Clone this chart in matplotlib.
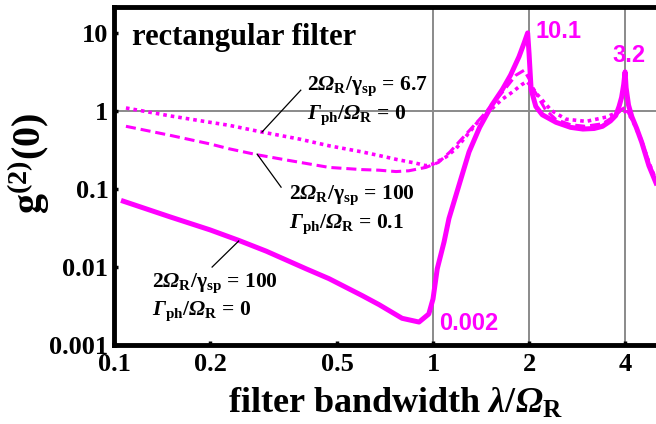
import numpy as np
import matplotlib
matplotlib.use("Agg")
import matplotlib.pyplot as plt
from matplotlib.ticker import FixedLocator, FixedFormatter, NullLocator

# fonts: bold Times-like everywhere, italic bold greek in math
plt.rcParams['font.family'] = ['Liberation Serif', 'DejaVu Serif']
plt.rcParams['font.weight'] = 'bold'
plt.rcParams['mathtext.fontset'] = 'custom'
plt.rcParams['mathtext.rm'] = 'Liberation Serif:bold:italic'
plt.rcParams['mathtext.it'] = 'Liberation Serif:bold:italic'
plt.rcParams['mathtext.bf'] = 'Liberation Serif:bold'

# ~~~~ data
# 2Omega_R/gamma_sp = 100, Gamma_ph/Omega_R = 0   (solid)
x_solid = [0.107, 0.15, 0.2, 0.246, 0.3, 0.4, 0.472, 0.6, 0.677, 0.8, 0.904,
           0.97, 1.0, 1.031, 1.083, 1.122, 1.206, 1.297, 1.4, 1.53, 1.65, 1.75,
           1.86, 1.93, 1.98, 2.0, 2.03, 2.1, 2.2, 2.43, 2.7, 2.95, 3.2, 3.4,
           3.6, 3.74, 3.83, 3.9, 3.96, 4.0, 4.03, 4.1, 4.2, 4.35, 4.51, 4.75, 5.0]
g2_solid = [0.070, 0.044, 0.030, 0.022, 0.016, 0.0095, 0.0071, 0.0043, 0.0033,
            0.0022, 0.00197, 0.0025, 0.0039, 0.0095, 0.021, 0.042, 0.112, 0.30,
            0.62, 1.2, 1.9, 2.9, 5.0, 7.5, 10.1, 5.5, 1.9, 1.15, 0.9, 0.72, 0.62,
            0.59, 0.60, 0.64, 0.75, 0.88, 1.15, 1.5, 2.2, 3.2, 2.0, 1.2, 0.85,
            0.6, 0.4, 0.2, 0.12]

# 2Omega_R/gamma_sp = 100, Gamma_ph/Omega_R = 0.1   (dashed)
x_dash = [0.109, 0.15, 0.2, 0.229, 0.281, 0.35, 0.472, 0.6, 0.677, 0.766, 0.84,
          0.95, 1.04, 1.13, 1.23, 1.42, 1.65, 1.82, 1.93, 2.0, 2.05, 2.12, 2.25,
          2.43, 2.7, 3.0, 3.4, 3.7, 3.9, 4.0, 4.1, 4.3, 4.5, 4.75, 5.0]
g2_dash = [0.64, 0.49, 0.38, 0.33, 0.276, 0.235, 0.19, 0.178, 0.175, 0.168, 0.172,
           0.19, 0.22, 0.3, 0.44, 0.84, 1.75, 2.9, 3.35, 2.6, 2.0, 1.6, 1.05,
           0.78, 0.67, 0.64, 0.69, 0.86, 1.05, 1.12, 0.95, 0.65, 0.43, 0.22, 0.13]

# 2Omega_R/gamma_sp = 6.7, Gamma_ph/Omega_R = 0   (dotted)
x_dot = [0.109, 0.15, 0.2, 0.229, 0.291, 0.38, 0.472, 0.6, 0.677, 0.77, 0.885,
         0.95, 1.0, 1.1, 1.18, 1.39, 1.65, 1.77, 1.9, 1.97, 2.05, 2.12, 2.23,
         2.35, 2.61, 3.02, 3.49, 3.9, 4.05, 4.2, 4.5, 4.75, 5.0]
g2_dot = [1.1, 0.87, 0.72, 0.66, 0.54, 0.44, 0.36, 0.30, 0.27, 0.24, 0.215,
          0.20, 0.21, 0.26, 0.33, 0.75, 1.43, 1.75, 2.2, 2.4, 2.0, 1.65, 1.3,
          1.02, 0.79, 0.74, 0.84, 1.02, 0.97, 0.8, 0.42, 0.22, 0.13]

x_ticks = [0.1, 0.2, 0.5, 1, 2, 4]
x_ticklabels = ['0.1', '0.2', '0.5', '1', '2', '4']
y_ticks = [0.001, 0.01, 0.1, 1, 10]
y_ticklabels = ['0.001', '0.01', '0.1', '1', '10']
x_grid = [1, 2, 4]
y_grid = [1]

peak_labels = ['10.1', '3.2', '0.002']

# ~~~~ figure
W, H = 656, 424
fig = plt.figure(figsize=(W / 100, H / 100), dpi=100)
ax = fig.add_axes([114 / W, 1 - 345 / H, 1 - 114 / W, (345 - 7.5) / H])
ax.set_xscale('log')
ax.set_yscale('log')
ax.set_xlim(0.1, 5.0)
ax.set_ylim(0.001, 21.4)

for xv in x_grid:
    ax.axvline(xv, color='#8a8a8a', lw=1.4, zorder=1)
for yv in y_grid:
    ax.axhline(yv, color='#8a8a8a', lw=1.4, zorder=1)

mag = '#ff00ff'
ax.plot(x_dot, g2_dot, color=mag, lw=2.6, linestyle=(0, (1, 1.1)), zorder=3)
ax.plot(x_dash, g2_dash, color=mag, lw=2.2, linestyle=(0, (3.3, 1.6)), zorder=3)
ax.plot(x_solid, g2_solid, color=mag, lw=3.6, solid_joinstyle='round', zorder=4)

# axes look
for s in ['left', 'bottom', 'top']:
    ax.spines[s].set_linewidth(3.5)
ax.spines['right'].set_visible(False)
ax.xaxis.set_major_locator(FixedLocator(x_ticks))
ax.xaxis.set_major_formatter(FixedFormatter(x_ticklabels))
ax.yaxis.set_major_locator(FixedLocator(y_ticks))
ax.yaxis.set_major_formatter(FixedFormatter(y_ticklabels))
ax.xaxis.set_minor_locator(NullLocator())
ax.yaxis.set_minor_locator(NullLocator())
ax.tick_params(which='major', direction='in', length=3, width=2.5,
               labelsize=19, top=False, right=False)
ax.tick_params(axis='x', pad=6)
ax.tick_params(axis='y', pad=4)

# axis labels
fig.text(29 / W, 1 - 163 / H, r'g$^{\mathbf{(2)}}$(0)', rotation=90,
         ha='center', va='center', fontsize=29, fontweight='bold')
fig.text(395 / W, 1 - 413 / H, r'filter bandwidth $\lambda$/$\Omega_{\mathbf{R}}$',
         ha='center', va='baseline', fontsize=26, fontweight='bold')

ax.text(0.114, 7.0, 'rectangular filter', fontsize=22, fontweight='bold',
        va='baseline', ha='left')

# curve annotations
fs = 15.5
ax.text(0.403, 1.86, r'2$\Omega_{\mathbf{R}}$/$\mathbf{\gamma}_{\mathbf{sp}}$ = 6.7',
        fontsize=fs, va='baseline')
ax.text(0.403, 0.80, r'$\Gamma_{\mathbf{ph}}$/$\Omega_{\mathbf{R}}$ = 0',
        fontsize=fs, va='baseline')
ax.plot([0.385, 0.291], [1.86, 0.54], color='black', lw=0.9, zorder=5)

ax.text(0.354, 0.0745, r'2$\Omega_{\mathbf{R}}$/$\mathbf{\gamma}_{\mathbf{sp}}$ = 100',
        fontsize=fs, va='baseline')
ax.text(0.354, 0.032, r'$\Gamma_{\mathbf{ph}}$/$\Omega_{\mathbf{R}}$ = 0.1',
        fontsize=fs, va='baseline')
ax.plot([0.281, 0.334], [0.281, 0.106], color='black', lw=0.9, zorder=5)

ax.text(0.1316, 0.0055, r'2$\Omega_{\mathbf{R}}$/$\mathbf{\gamma}_{\mathbf{sp}}$ = 100',
        fontsize=fs, va='baseline')
ax.text(0.1316, 0.00243, r'$\Gamma_{\mathbf{ph}}$/$\Omega_{\mathbf{R}}$ = 0',
        fontsize=fs, va='baseline')
ax.plot([0.246, 0.203], [0.0216, 0.0100], color='black', lw=0.9, zorder=5)

# peak / minimum values
sans = ['Liberation Sans', 'DejaVu Sans']
ax.text(2.10, 8.6, peak_labels[0], color=mag, fontsize=17, fontweight='bold',
        family=sans, va='baseline')
ax.text(3.64, 4.25, peak_labels[1], color=mag, fontsize=17, fontweight='bold',
        family=sans, va='baseline')
ax.text(1.044, 0.00156, peak_labels[2], color=mag, fontsize=17, fontweight='bold',
        family=sans, va='baseline')

fig.savefig('out.png', dpi=100)
